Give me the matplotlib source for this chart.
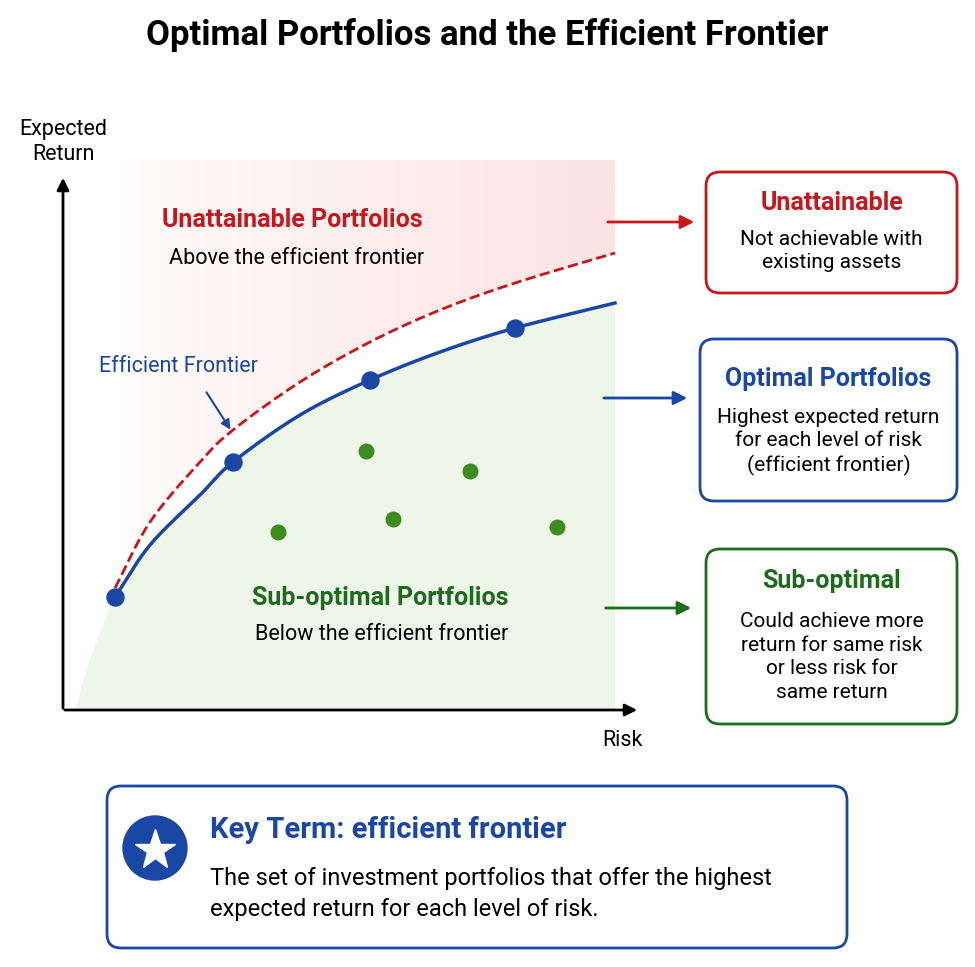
import numpy as np
import matplotlib.pyplot as plt
from matplotlib.patches import FancyBboxPatch, Polygon, Circle
from matplotlib.colors import LinearSegmentedColormap

plt.rcParams['font.family'] = ['Roboto', 'DejaVu Sans']

# Data (pixel space of the 975x967 image)
frontier_x = [115, 150, 200, 233, 300, 370, 440, 515, 615]
frontier_y = [597, 545, 495, 462, 415, 380, 352, 328, 303]
dashed_x = [115, 150, 200, 233, 300, 370, 440, 515, 615]
dashed_y = [588, 522, 462, 430, 382, 342, 310, 283, 253]
frontier_pts_x = [115, 233, 370, 515]
frontier_pts_y = [597, 462, 380, 328]
sub_pts_x = [278, 366, 393, 470, 557]
sub_pts_y = [532, 451, 519, 471, 527]

BLUE = '#1a47a6'
RED = '#c8161d'
GREEN = '#1d6b1d'
DOT_GREEN = '#3c8c1e'


def smooth(xs, ys, n=20):
    # Catmull-Rom through the read points
    p = np.column_stack([xs, ys]).astype(float)
    p = np.vstack([2 * p[0] - p[1], p, 2 * p[-1] - p[-2]])
    out = []
    t = np.linspace(0, 1, n, endpoint=False)[:, None]
    for i in range(1, len(p) - 2):
        p0, p1, p2, p3 = p[i - 1], p[i], p[i + 1], p[i + 2]
        out.append(0.5 * (2 * p1 + (-p0 + p2) * t + (2 * p0 - 5 * p1 + 4 * p2 - p3) * t ** 2
                          + (-p0 + 3 * p1 - 3 * p2 + p3) * t ** 3))
    out.append(p[-2][None, :])
    out = np.vstack(out)
    return out[:, 0], out[:, 1]


fx, fy = smooth(frontier_x, frontier_y)
dx, dy = smooth(dashed_x, dashed_y)

fig = plt.figure(figsize=(9.75, 9.67), dpi=100)
ax = fig.add_axes([0, 0, 1, 1])

ax.text(487, 35, 'Optimal Portfolios and the Efficient Frontier', ha='center', va='center',
        fontsize=25, fontweight='bold')

# green region below frontier
ex, ey = smooth([75, 88, 103, 115], [710, 665, 625, 597], 10)
gx = list(ex) + list(fx) + [615, 75]
gy = list(ey) + list(fy) + [710, 710]
ax.add_patch(Polygon(list(zip(gx, gy)), closed=True, facecolor='#eef6ea', edgecolor='none'))

# pink gradient region above dashed line
poly = Polygon(list(zip([115] + list(dx) + [615, 115], [160] + list(dy) + [160, 160])),
               closed=True, facecolor='none', edgecolor='none')
ax.add_patch(poly)
grad = np.linspace(0, 1, 200)[None, :] ** 0.7
im = ax.imshow(grad, extent=[115, 615, 600, 160],
               cmap=LinearSegmentedColormap.from_list('p', ['#ffffff', '#fde4e4']),
               aspect='auto', zorder=0.5)
im.set_clip_path(poly)
ax.set_xlim(0, 975)
ax.set_ylim(967, 0)
ax.axis('off')

ax.plot(dx, dy, '--', color=RED, lw=2, zorder=2)
ax.plot(fx, fy, '-', color=BLUE, lw=2.5, zorder=3)
ax.scatter(frontier_pts_x, frontier_pts_y, s=150, color=BLUE, zorder=4)
ax.scatter(sub_pts_x, sub_pts_y, s=110, color=DOT_GREEN, zorder=4)

# axes
ax.annotate('', xy=(63, 175), xytext=(63, 711),
            arrowprops=dict(arrowstyle='-|>', color='black', lw=2, mutation_scale=18))
ax.annotate('', xy=(640, 710), xytext=(62, 710),
            arrowprops=dict(arrowstyle='-|>', color='black', lw=2, mutation_scale=18))
ax.text(63, 142, 'Expected\nReturn', ha='center', va='center', fontsize=15.5, linespacing=1.3)
ax.text(622, 741, 'Risk', ha='center', va='center', fontsize=15.5)

ax.text(292, 220, 'Unattainable Portfolios', ha='center', va='center', fontsize=18,
        fontweight='bold', color=RED)
ax.text(297, 258, 'Above the efficient frontier', ha='center', va='center', fontsize=15.5)
ax.text(178, 366, 'Efficient Frontier', ha='center', va='center', fontsize=15.5, color=BLUE)
ax.annotate('', xy=(232, 432), xytext=(205, 390),
            arrowprops=dict(arrowstyle='-|>', color=BLUE, lw=1.5, mutation_scale=14))
ax.text(380, 598, 'Sub-optimal Portfolios', ha='center', va='center', fontsize=18,
        fontweight='bold', color=GREEN)
ax.text(382, 635, 'Below the efficient frontier', ha='center', va='center', fontsize=15.5)

# side arrows and boxes
for (x0, x1, y, c) in [(605, 697, 222, RED), (601, 690, 398, BLUE), (603, 694, 608, GREEN)]:
    ax.annotate('', xy=(x1, y), xytext=(x0, y),
                arrowprops=dict(arrowstyle='-|>', color=c, lw=2, mutation_scale=20))

boxes = [
    (706, 172, 251, 121, RED, 'Unattainable', 'Not achievable with\nexisting assets', 203, 251),
    (700, 339, 257, 162, BLUE, 'Optimal Portfolios',
     'Highest expected return\nfor each level of risk\n(efficient frontier)', 379, 442),
    (706, 549, 251, 175, GREEN, 'Sub-optimal',
     'Could achieve more\nreturn for same risk\nor less risk for\nsame return', 581, 657),
]
for x, y, w, h, c, title, body, ty, by in boxes:
    ax.add_patch(FancyBboxPatch((x, y), w, h, boxstyle='round,pad=0,rounding_size=14',
                                facecolor='white', edgecolor=c, lw=2))
    ax.text(x + w / 2, ty, title, ha='center', va='center', fontsize=18, fontweight='bold', color=c)
    ax.text(x + w / 2, by, body, ha='center', va='center', fontsize=15, linespacing=1.3)

# key term box
ax.add_patch(FancyBboxPatch((107, 786), 740, 162, boxstyle='round,pad=0,rounding_size=14',
                            facecolor='white', edgecolor=BLUE, lw=2))
ax.add_patch(Circle((155, 848), 32, color=BLUE))
ax.plot(155, 850, marker='*', markersize=30, color='white')
ax.text(210, 830, 'Key Term: efficient frontier', ha='left', va='center', fontsize=21,
        fontweight='bold', color=BLUE)
ax.text(210, 894, 'The set of investment portfolios that offer the highest\n'
        'expected return for each level of risk.', ha='left', va='center', fontsize=17,
        linespacing=1.45)

fig.savefig('out.png', dpi=100)
